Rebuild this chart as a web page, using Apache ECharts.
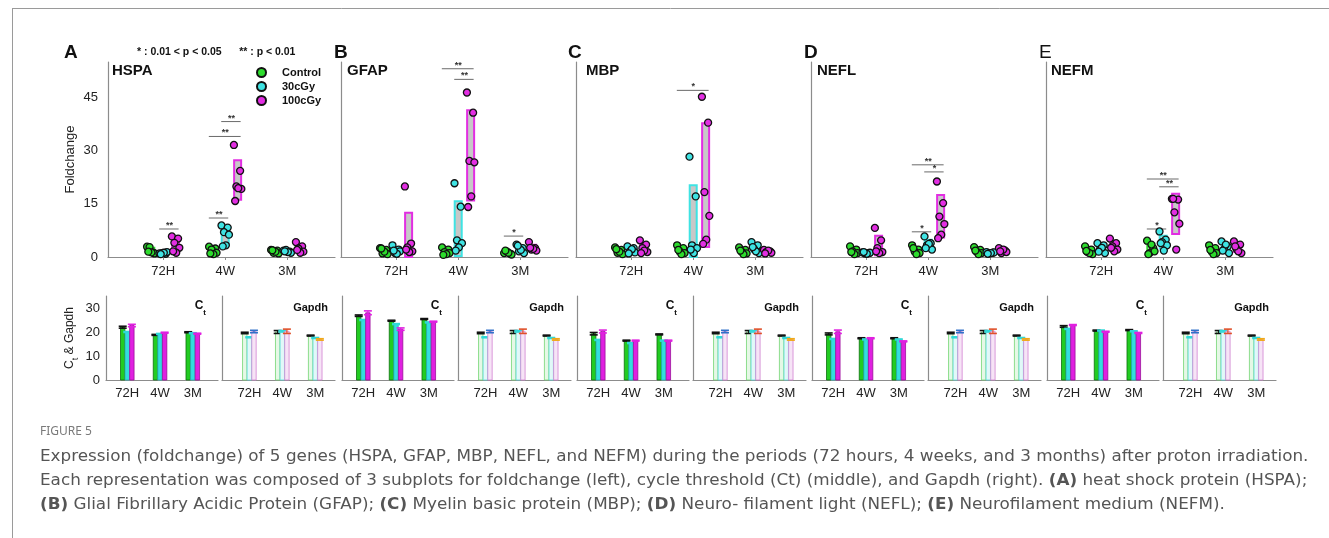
<!DOCTYPE html>
<html><head><meta charset="utf-8">
<script src="https://cdn.jsdelivr.net/npm/echarts@6/dist/echarts.min.js"></script>
<style>html,body{margin:0;padding:0;background:#fff}#c{width:1329px;height:538px}</style>
</head><body><div id="c"></div>
<script>
// ---------- DATA ----------
const groups = ['72H', '4W', '3M'];
const doses = ['Control', '30cGy', '100cGy'];
const genes = ['HSPA', 'GFAP', 'MBP', 'NEFL', 'NEFM'];
const letters = ['A', 'B', 'C', 'D', 'E'];
const foldTicks = [0, 15, 30, 45];
const ctTicks = [0, 10, 20, 30];

// foldchange points per dose: [72H], [4W], [3M]
const HSPA_control = [[2.9,1.2,2.8,1.0,1.3,1.5],[2.9,2.4,2.1,1.2,0.8,1.0],[2.0,1.8,1.2,1.0,1.5,1.9]];
const HSPA_30cGy   = [[1.0,0.9,1.1,1.4,1.2,0.8],[8.9,8.3,7.0,6.3,3.3,3.0],[1.8,1.5,2.0,1.2,1.4,1.6]];
const HSPA_100cGy  = [[5.8,5.2,4.0,2.6,1.2,1.6],[31.6,24.3,19.9,19.2,19.4,15.8],[4.2,3.0,2.4,1.5,1.2,2.0]];
const GFAP_control = [[2.5,2.0,1.0,0.8,1.5,2.4],[2.7,2.1,1.4,1.1,0.8,0.6],[1.1,0.9,1.6,0.7,1.2,1.8]];
const GFAP_30cGy   = [[3.3,2.1,1.1,1.6,0.9,1.8],[20.8,14.2,4.7,3.9,2.7,1.8],[3.5,2.5,1.6,1.1,2.0,3.2]];
const GFAP_100cGy  = [[19.9,3.8,2.7,1.6,1.4,2.1],[46.4,40.7,27.1,26.7,17.1,14.1],[4.2,2.5,2.1,1.8,2.3,2.6]];
const MBP_control  = [[2.7,2.0,1.2,0.8,1.5,2.2],[3.3,2.5,1.6,1.1,0.8,2.0],[2.7,2.0,1.5,1.0,0.8,1.8]];
const MBP_30cGy    = [[3.0,2.5,1.6,1.3,2.2,1.0],[28.3,17.1,3.3,2.5,1.1,2.1],[4.2,3.3,2.3,1.1,1.6,2.8]];
const MBP_100cGy   = [[4.7,3.5,2.5,1.4,1.8,1.1],[45.2,37.9,18.3,11.6,4.9,3.7],[2.0,1.6,1.4,1.2,1.8,1.0]];
const NEFL_control = [[3.0,2.1,1.6,1.1,0.8,1.4],[3.3,2.1,1.6,1.1,0.8,2.5],[2.8,2.0,1.5,1.1,0.8,1.8]];
const NEFL_30cGy   = [[1.3,1.1,1.0,1.2,0.9,1.4],[5.8,3.9,3.3,2.1,3.7,2.5],[1.4,1.2,1.0,1.3,1.1,0.9]];
const NEFL_100cGy  = [[8.2,4.7,2.5,1.4,1.1,1.6],[21.3,15.2,11.4,9.3,6.3,5.3],[2.5,1.8,1.1,1.4,2.1,1.6]];
const NEFM_control = [[3.0,2.1,1.4,0.8,1.1,1.7],[4.6,2.5,1.1,1.6,3.5,0.8],[3.3,2.5,1.6,1.1,0.8,2.0]];
const NEFM_30cGy   = [[3.9,3.3,2.1,1.1,2.6,1.5],[7.2,4.9,4.2,3.3,1.8,3.9],[4.4,3.0,2.1,1.1,3.5,1.8]];
const NEFM_100cGy  = [[5.2,3.9,3.0,2.1,1.6,2.6],[16.4,16.2,12.6,9.4,2.1,16.4],[4.4,3.5,2.3,1.1,1.6,3.0]];

// significance: [group, fromDose, toDose, level, label]
const HSPA_sig = [[0,1,2,7.9,'**'],[1,0,1,11.0,'**'],[1,0,2,34.0,'**'],[1,1,2,38.2,'**']];
const GFAP_sig = [[1,0,2,53.1,'**'],[1,1,2,50.1,'**'],[2,0,1,5.9,'*']];
const MBP_sig  = [[1,0,2,47.0,'*']];
const NEFL_sig = [[1,0,2,26.0,'**'],[1,1,2,24.0,'*'],[1,0,1,7.1,'*']];
const NEFM_sig = [[1,0,2,22.0,'**'],[1,1,2,19.8,'**'],[1,0,1,7.9,'*']];

// Ct means / SD: rows = Control, 30cGy, 100cGy ; cols = 72H, 4W, 3M
const HSPA_ct   = [[22.0,18.8,19.9],[20.0,19.2,19.5],[22.7,19.7,19.3]];
const HSPA_ctSd = [[0.4,0.2,0.2],[0.2,0.2,0.2],[0.5,0.2,0.2]];
const GFAP_ct   = [[26.8,24.7,25.4],[25.0,23.3,24.0],[28.0,21.2,24.3]];
const GFAP_ctSd = [[0.3,0.2,0.2],[0.2,0.2,0.2],[0.8,0.5,0.2]];
const MBP_ct    = [[19.3,16.4,19.0],[16.7,15.4,16.4],[20.2,16.4,16.4]];
const MBP_ctSd  = [[0.5,0.2,0.2],[0.2,0.2,0.2],[0.6,0.2,0.2]];
const NEFL_ct   = [[19.2,17.4,17.4],[17.1,16.9,16.9],[20.1,17.4,16.1]];
const NEFL_ctSd = [[0.4,0.2,0.2],[0.2,0.2,0.2],[0.7,0.2,0.2]];
const NEFM_ct   = [[22.3,20.6,20.8],[21.3,20.6,20.3],[22.9,20.1,19.6]];
const NEFM_ctSd = [[0.35,0.2,0.2],[0.2,0.2,0.2],[0.2,0.2,0.2]];
const Gapdh_ct   = [[19.6,20.0,18.5],[17.8,20.3,17.5],[20.2,20.3,16.9]];
const Gapdh_ctSd = [[0.3,0.6,0.2],[0.2,0.3,0.2],[0.5,0.9,0.3]];

// ---------- LAYOUT / STYLE ----------
const FONT = 'Liberation Sans, Arial, sans-serif';
const doseColors = ['#2ddc2d', '#3fe3e3', '#e22ee2'];
const ctFill = ['#22cc22', '#33dede', '#e020e0'];
const ctStroke = ['#0e6e0e', '#22b4b4', '#9a109a'];
const ctCap = [['#111','#111','#111'], ['#2fd8d8','#2fd8d8','#2fd8d8'], ['#e020e0','#e020e0','#e020e0']];
const gFill = ['#e6f8e6', '#e2f8f8', '#f6e4f6'];
const gStroke = ['#74d674', '#5edcdc', '#d283d2'];
const gCap = [['#111','#111','#111'], ['#2fd8d8','#2fd8d8','#2fd8d8'], ['#2f6fc8','#e0502a','#f0a818']];
const topLeft = [108, 341, 576, 811, 1046];
const geneX = [112, 347, 586, 817, 1051];
const letterX = [64, 334, 568, 804, 1039];
const ctLeft = [106, 342, 577, 812, 1047];
const TOP_Y = 62, TOP_H = 195, TOP_W = 227;
const BOT_Y = 296, BOT_H = 84, CT_W = 112, G_W = 113;
const doseOffTop = [-0.2, 0, 0.2];
const doseOffBot = [-0.14, 0, 0.14];
const jitter = [-0.06, 0.04, -0.02, 0.06, 0.01, -0.04];
const AXC = '#8c8c8c';

const foldData = [
  [HSPA_control, HSPA_30cGy, HSPA_100cGy],
  [GFAP_control, GFAP_30cGy, GFAP_100cGy],
  [MBP_control, MBP_30cGy, MBP_100cGy],
  [NEFL_control, NEFL_30cGy, NEFL_100cGy],
  [NEFM_control, NEFM_30cGy, NEFM_100cGy]
];
const sigData = [HSPA_sig, GFAP_sig, MBP_sig, NEFL_sig, NEFM_sig];
const ctData = [HSPA_ct, GFAP_ct, MBP_ct, NEFL_ct, NEFM_ct];
const ctSdData = [HSPA_ctSd, GFAP_ctSd, MBP_ctSd, NEFL_ctSd, NEFM_ctSd];

function meanSd(a) {
  const m = a.reduce((s, v) => s + v, 0) / a.length;
  const v = a.reduce((s, x) => s + (x - m) * (x - m), 0) / (a.length - 1);
  return [m, Math.sqrt(v)];
}

function boxRender(color) {
  return function (params, api) {
    const x = api.value(0), lo = Math.max(api.value(1), 0), hi = api.value(2);
    const p1 = api.coord([x, hi]), p2 = api.coord([x, lo]);
    return { type: 'rect', shape: { x: p1[0] - 3.5, y: p1[1], width: 7, height: p2[1] - p1[1] },
      style: { fill: '#c8c8c8', stroke: color, lineWidth: 2 } };
  };
}
function bracketRender(list) {
  return function (params, api) {
    const b = list[params.dataIndex];
    const a = api.coord([api.value(0), api.value(2)]);
    const c = api.coord([api.value(1), api.value(2)]);
    return { type: 'group', children: [
      { type: 'line', shape: { x1: a[0] - 4, y1: a[1], x2: c[0] + 3, y2: a[1] }, style: { stroke: '#6a6a6a', lineWidth: 1 } },
      { type: 'text', style: { text: b[4], x: (a[0] + c[0]) / 2, y: a[1] + 1, align: 'center', verticalAlign: 'bottom',
        fill: '#333', font: 'bold 9px ' + FONT } }
    ] };
  };
}
function barRender(fill, stroke, caps) {
  return function (params, api) {
    const x = api.value(0), m = api.value(1), sd = api.value(2), g = api.value(3);
    const t = api.coord([x, m]), b = api.coord([x, 0]);
    const hi = api.coord([x, m + sd]), lo = api.coord([x, m - sd]);
    const cc = caps[g];
    return { type: 'group', children: [
      { type: 'rect', shape: { x: t[0] - 2.2, y: t[1], width: 4.4, height: b[1] - t[1] }, style: { fill: fill, stroke: stroke, lineWidth: 0.8 } },
      { type: 'line', shape: { x1: t[0], y1: hi[1], x2: t[0], y2: lo[1] }, style: { stroke: cc, lineWidth: 1.2 } },
      { type: 'line', shape: { x1: t[0] - 4, y1: hi[1], x2: t[0] + 4, y2: hi[1] }, style: { stroke: cc, lineWidth: 1.6 } },
      { type: 'line', shape: { x1: t[0] - 4, y1: lo[1], x2: t[0] + 4, y2: lo[1] }, style: { stroke: cc, lineWidth: 1.6 } }
    ] };
  };
}

const grid = [], xAxis = [], yAxis = [], series = [];
const axisLineStyle = { show: true, lineStyle: { color: AXC, width: 1.2 } };
const catLabel = { customValues: [1, 2, 3], formatter: v => groups[Math.round(v) - 1], fontSize: 13, color: '#222', fontFamily: FONT };

// top foldchange panels (grid 0..4)
for (let i = 0; i < 5; i++) {
  grid.push({ left: topLeft[i], top: TOP_Y, width: TOP_W, height: TOP_H });
  xAxis.push({ gridIndex: i, type: 'value', min: 0.11, max: 3.77, axisLine: axisLineStyle,
    axisTick: { show: true, customValues: [1, 2, 3], length: 3, lineStyle: { color: AXC } },
    axisLabel: Object.assign({ margin: 8 }, catLabel), splitLine: { show: false } });
  yAxis.push({ gridIndex: i, type: 'value', min: 0, max: 55, axisLine: axisLineStyle, axisTick: { show: false },
    axisLabel: { show: i === 0, customValues: foldTicks, fontSize: 13, color: '#222', fontFamily: FONT, margin: 10 },
    splitLine: { show: false },
    name: i === 0 ? 'Foldchange' : '', nameLocation: 'middle', nameRotate: 90, nameGap: 31,
    nameTextStyle: { fontSize: 13, color: '#222', fontFamily: FONT } });
  for (let d = 0; d < 3; d++) {
    const pts = foldData[i][d];
    series.push({ type: 'custom', xAxisIndex: i, yAxisIndex: i, silent: true, z: 1,
      renderItem: boxRender(doseColors[d]), encode: { x: 0, y: [1, 2] },
      data: pts.map((arr, g) => { const ms = meanSd(arr); return [g + 1 + doseOffTop[d], ms[0] - ms[1], ms[0] + ms[1]]; }) });
  }
  for (let d = 0; d < 3; d++) {
    const pts = foldData[i][d];
    const data = [];
    pts.forEach((arr, g) => arr.forEach((v, k) => data.push([g + 1 + doseOffTop[d] + jitter[k], v])));
    series.push({ type: 'scatter', name: doses[d], xAxisIndex: i, yAxisIndex: i, z: 3, symbol: 'circle', symbolSize: 7,
      itemStyle: { color: doseColors[d], borderColor: '#111', borderWidth: 1.3, opacity: 1 }, data: data });
  }
  const sig = sigData[i];
  series.push({ type: 'custom', xAxisIndex: i, yAxisIndex: i, silent: true, z: 2,
    renderItem: bracketRender(sig), encode: { x: [0, 1], y: 2 },
    data: sig.map(b => [b[0] + 1 + doseOffTop[b[1]], b[0] + 1 + doseOffTop[b[2]], b[3]]) });
}

// bottom Ct (grid 5..9) and Gapdh (grid 10..14)
function addBottom(idx, left, width, xmin, xmax, means, sds, fills, strokes, caps, showY) {
  grid.push({ left: left, top: BOT_Y, width: width, height: BOT_H });
  xAxis.push({ gridIndex: idx, type: 'value', min: xmin, max: xmax, axisLine: axisLineStyle,
    axisTick: { show: false }, axisLabel: Object.assign({ margin: 7 }, catLabel), splitLine: { show: false } });
  yAxis.push({ gridIndex: idx, type: 'value', min: 0, max: 35, axisLine: axisLineStyle, axisTick: { show: false },
    axisLabel: { show: showY, customValues: ctTicks, fontSize: 13, color: '#222', fontFamily: FONT, margin: 6 },
    splitLine: { show: false },
    name: showY ? '{n|C}{s|t}{n| & Gapdh}' : '', nameLocation: 'middle', nameRotate: 90, nameGap: 26,
    nameTextStyle: { rich: {
      n: { fontSize: 12, color: '#222', fontFamily: FONT, verticalAlign: 'top', lineHeight: 14 },
      s: { fontSize: 9, color: '#222', fontFamily: FONT, verticalAlign: 'bottom', lineHeight: 16 } } } });
  for (let d = 0; d < 3; d++) {
    series.push({ type: 'custom', xAxisIndex: idx, yAxisIndex: idx, silent: true, z: 2 + d,
      renderItem: barRender(fills[d], strokes[d], caps[d]), encode: { x: 0, y: 1 },
      data: means[d].map((m, g) => [g + 1 + doseOffBot[d], m, sds[d][g], g]) });
  }
}
for (let i = 0; i < 5; i++) addBottom(5 + i, ctLeft[i], CT_W, 0.35, 3.77, ctData[i], ctSdData[i], ctFill, ctStroke, ctCap, i === 0);
for (let i = 0; i < 5; i++) addBottom(10 + i, ctLeft[i] + 116, G_W, 0.17, 3.6, Gapdh_ct, Gapdh_ctSd, gFill, gStroke, gCap, false);

// ---------- TEXT / FRAME ----------
const graphic = [
  { type: 'line', shape: { x1: 12, y1: 8.5, x2: 1329, y2: 8.5 }, style: { stroke: '#9a9a9a', lineWidth: 1 } },
  { type: 'line', shape: { x1: 12.5, y1: 8, x2: 12.5, y2: 538 }, style: { stroke: '#9a9a9a', lineWidth: 1 } },
  { type: 'text', style: { text: '* : 0.01 < p < 0.05      ** : p < 0.01', x: 137, y: 52, verticalAlign: 'middle',
    font: 'bold 10.5px ' + FONT, fill: '#111' } }
];
for (let i = 0; i < 5; i++) {
  graphic.push({ type: 'text', style: { text: letters[i], x: letterX[i], y: 53, verticalAlign: 'middle',
    font: (i === 4 ? '' : 'bold ') + '19px ' + FONT, fill: '#111' } });
  graphic.push({ type: 'text', style: { text: genes[i], x: geneX[i], y: 71, verticalAlign: 'middle',
    font: 'bold 15px ' + FONT, fill: '#111' } });
  graphic.push({ type: 'text', style: { text: '{c|C}{t|t}', x: ctLeft[i] + 100, y: 308, align: 'right', verticalAlign: 'middle',
    rich: { c: { font: 'bold 12px ' + FONT, fill: '#111', verticalAlign: 'top', lineHeight: 14 },
            t: { font: 'bold 8px ' + FONT, fill: '#111', verticalAlign: 'bottom', lineHeight: 17 } } } });
  graphic.push({ type: 'text', style: { text: 'Gapdh', x: ctLeft[i] + 116 + 106, y: 308, align: 'right', verticalAlign: 'middle',
    font: 'bold 11px ' + FONT, fill: '#111' } });
}
const CAP_FONT = '15px DejaVu Sans';
const capRich = { n: { font: CAP_FONT, fill: '#555555' }, b: { font: 'bold ' + CAP_FONT, fill: '#555555' } };
graphic.push({ type: 'text', style: { text: 'FIGURE 5', x: 40, y: 432, verticalAlign: 'middle', font: '12px Noto Sans', fill: '#7a7a7a' } });
const capLines = [
  '{n|Expression (foldchange) of 5 genes (HSPA, GFAP, MBP, NEFL, and NEFM) during the periods (72 hours, 4 weeks, and 3 months) after proton irradiation.}',
  '{n|Each representation was composed of 3 subplots for foldchange (left), cycle threshold (Ct) (middle), and Gapdh (right). }{b|(A)}{n| heat shock protein (HSPA);}',
  '{b|(B)}{n| Glial Fibrillary Acidic Protein (GFAP); }{b|(C)}{n| Myelin basic protein (MBP); }{b|(D)}{n| Neuro- filament light (NEFL); }{b|(E)}{n| Neurofilament medium (NEFM).}'
];
capLines.forEach((t, k) => graphic.push({ type: 'text', x: 40, y: 457 + 24 * k, scaleX: 1.12,
  style: { text: t, x: 0, y: 0, verticalAlign: 'middle', rich: capRich } }));

const chart = echarts.init(document.getElementById('c'), null, { renderer: 'canvas' });
chart.setOption({
  backgroundColor: '#fff',
  animation: false,
  grid, xAxis, yAxis, series, graphic,
  legend: { data: doses, left: 251, top: 62, orient: 'vertical', itemGap: 3, itemWidth: 9, itemHeight: 9, icon: 'circle',
    selectedMode: false,
    textStyle: { fontWeight: 'bold', fontSize: 11, color: '#111', fontFamily: FONT, padding: [0, 0, 0, 11] } }
});
</script></body></html>
